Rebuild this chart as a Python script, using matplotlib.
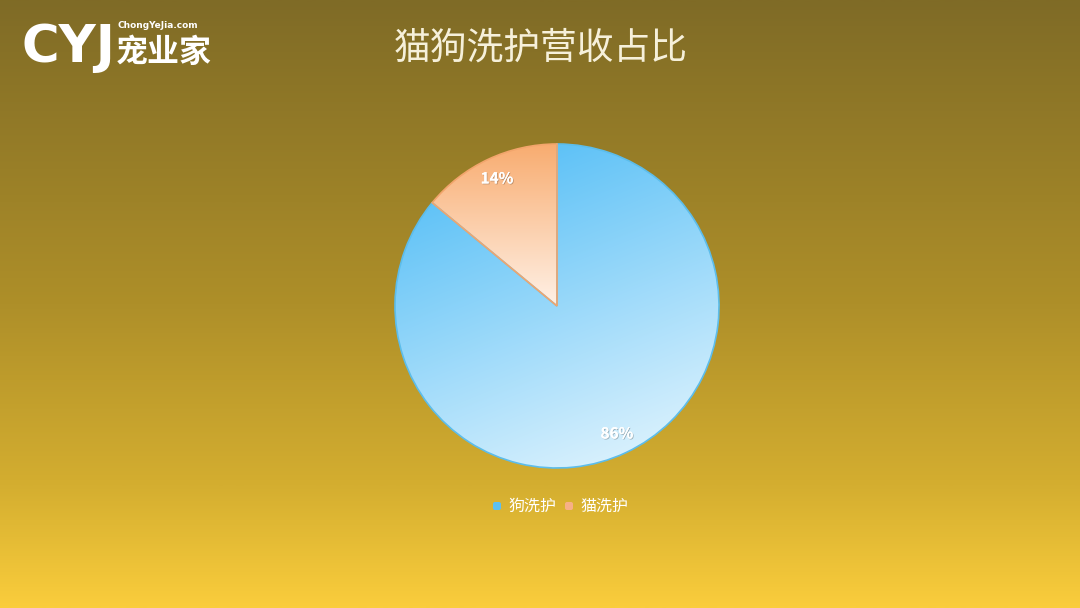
import numpy as np
import matplotlib
matplotlib.use("Agg")
import matplotlib.pyplot as plt
from matplotlib.colors import LinearSegmentedColormap, to_rgb
from matplotlib.patches import FancyBboxPatch
import matplotlib.patheffects as pe

plt.rcParams['font.family'] = ['Noto Sans CJK SC', 'DejaVu Sans']

title = "猫狗洗护营收占比"
categories = ["狗洗护", "猫洗护"]
values = [86, 14]
top_colors = ["#4FBCF6", "#F8AC70"]
bottom_colors = ["#E9F7FE", "#FFF1E6"]
edge_colors = ["#5CBDEB", "#F2A56C"]

W, H = 1080, 608
fig = plt.figure(figsize=(W / 100, H / 100), dpi=100)
ax = fig.add_axes([0, 0, 1, 1])
ax.set_xlim(0, W)
ax.set_ylim(0, H)
ax.axis('off')

# background gradient (top -> bottom)
bg = LinearSegmentedColormap.from_list(
    "bg", [(0.0, "#7F6B26"), (0.5, "#AE8F29"), (0.8, "#D4AE30"), (1.0, "#FACD3C")])
grad = np.linspace(0, 1, 512).reshape(-1, 1)
ax.imshow(grad, cmap=bg, extent=[0, W, 0, H], aspect='auto', zorder=0, origin='upper')

cx, cy, r = 557, H - 306, 162
wedges, texts, autotexts = ax.pie(
    values, startangle=90, counterclock=False, center=(cx, cy), radius=r,
    autopct='%1.0f%%', pctdistance=0.87,
    wedgeprops=dict(linewidth=1.2, alpha=1.0),
    textprops=dict(color='white', fontsize=11, fontweight='bold'))
ax.set_xlim(0, W)
ax.set_ylim(0, H)
ax.set_aspect('auto')

# gradient fills clipped to wedges
ny, nx = 200, 200
yy, xx = np.mgrid[0:1:ny * 1j, 0:1:nx * 1j]  # yy=0 top row
for i, w in enumerate(wedges):
    w.set_facecolor('none')
    w.set_edgecolor(edge_colors[i])
    w.set_zorder(3)
    c0 = np.array(to_rgb(top_colors[i]))
    c1 = np.array(to_rgb(bottom_colors[i]))
    if i == 0:
        t = np.clip(0.75 * yy + 0.3 * xx - 0.05, 0, 1)
        ext = [cx - r, cx + r, cy - r, cy + r]
    else:
        t = yy
        ext = [cx - r * 0.8, cx, cy, cy + r]
    img = c0[None, None, :] * (1 - t[..., None]) + c1[None, None, :] * t[..., None]
    im = ax.imshow(img, extent=ext, origin='upper', aspect='auto', zorder=2,
                   interpolation='bilinear')
    im.set_clip_path(w)

for t in autotexts:
    t.set_zorder(5)
    t.set_path_effects([pe.withSimplePatchShadow(offset=(0.6, -0.6), shadow_rgbFace='#000000', alpha=0.25),
                        pe.Normal()])

# title
ax.text(541, H - 48, title, ha='center', va='center', fontsize=26.5,
        color='#F6F0DA', zorder=5)

# logo
ax.text(22, H - 48, "CYJ", ha='left', va='center', fontsize=37, fontweight='heavy',
        color='white', family=['DejaVu Sans'], zorder=5)
ax.text(118, H - 26, "ChongYeJia.com", ha='left', va='center', fontsize=6.5,
        fontweight='bold', color='white', family=['DejaVu Sans'], zorder=5)
ax.text(116, H - 53, "宠业家", ha='left', va='center', fontsize=23,
        fontweight='bold', color='white', zorder=5)

# legend
leg_items = [(497, categories[0], "#5CC0F2"), (569, categories[1], "#F7B087")]
for x0, lab, col in leg_items:
    sq = FancyBboxPatch((x0 - 4, H - 510), 8, 8, boxstyle="round,pad=0,rounding_size=2",
                        facecolor=col, edgecolor='none', zorder=5)
    ax.add_patch(sq)
    ax.text(x0 + 11, H - 506, lab, ha='left', va='center', fontsize=11.5,
            fontweight='medium', color='white', zorder=5)

fig.savefig("out.png", dpi=100)
